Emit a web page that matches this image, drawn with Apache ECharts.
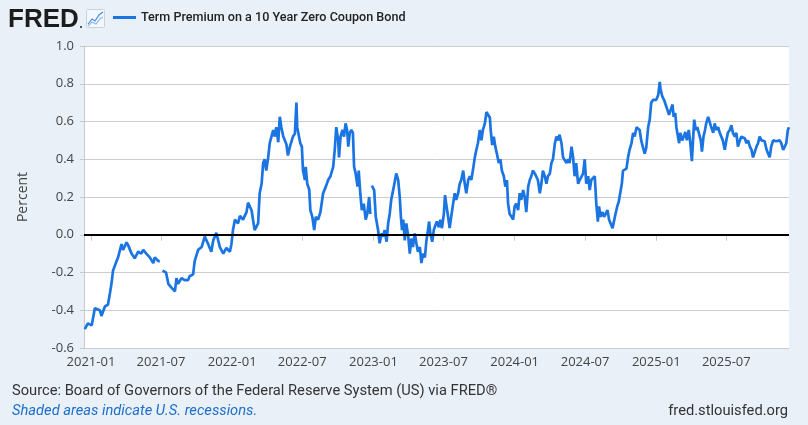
<!DOCTYPE html>
<html>
<head>
<meta charset="utf-8">
<script src="https://cdn.jsdelivr.net/npm/echarts@6/dist/echarts.min.js"></script>
<style>
html,body{margin:0;padding:0;background:#eaf0f8;}
#c{width:808px;height:425px;}
</style>
</head>
<body>
<div id="c"></div>
<script>
const seriesName = 'Term Premium on a 10 Year Zero Coupon Bond';
const yTicks = [-0.6, -0.4, -0.2, 0.0, 0.2, 0.4, 0.6, 0.8, 1.0];
const xTickLabels = ['2021-01','2021-07','2022-01','2022-07','2023-01','2023-07','2024-01','2024-07','2025-01','2025-07'];
const dates = [
'2020-12-16','2020-12-24','2021-01-03','2021-01-07','2021-01-11','2021-01-15','2021-01-24','2021-01-28','2021-02-06','2021-02-14',
'2021-02-19','2021-02-23','2021-02-27','2021-03-04','2021-03-08','2021-03-12','2021-03-21','2021-03-25','2021-04-03','2021-04-07',
'2021-04-16','2021-04-24','2021-05-03','2021-05-11','2021-05-16','2021-05-24','2021-06-02','2021-06-11','2021-06-15','2021-06-24',
'2021-06-28','2021-07-02','2021-07-05','2021-07-14','2021-07-20','2021-07-28','2021-08-06','2021-08-10','2021-08-14','2021-08-23',
'2021-08-31','2021-09-09','2021-09-13','2021-09-22','2021-09-26','2021-10-05','2021-10-14','2021-10-22','2021-10-31','2021-11-08',
'2021-11-13','2021-11-21','2021-11-30','2021-12-09','2021-12-17','2021-12-26','2021-12-30','2022-01-03','2022-01-08','2022-01-16',
'2022-01-21','2022-01-29','2022-02-07','2022-02-11','2022-02-20','2022-02-24','2022-02-28','2022-03-05','2022-03-09','2022-03-13',
'2022-03-18','2022-03-22','2022-03-26','2022-03-30','2022-04-04','2022-04-08','2022-04-12','2022-04-17','2022-04-21','2022-04-25',
'2022-04-30','2022-05-04','2022-05-08','2022-05-13','2022-05-21','2022-05-25','2022-05-30','2022-06-07','2022-06-12','2022-06-16',
'2022-06-18','2022-06-23','2022-06-26','2022-06-30','2022-07-03','2022-07-08','2022-07-10','2022-07-14','2022-07-19','2022-07-22',
'2022-07-27','2022-08-01','2022-08-05','2022-08-11','2022-08-17','2022-08-24','2022-08-31','2022-09-06','2022-09-12','2022-09-19',
'2022-09-23','2022-09-27','2022-10-02','2022-10-04','2022-10-08','2022-10-13','2022-10-17','2022-10-21','2022-10-25','2022-10-28',
'2022-11-01','2022-11-05','2022-11-09','2022-11-12','2022-11-16','2022-11-21','2022-11-24','2022-11-28','2022-12-02','2022-12-07',
'2022-12-12','2022-12-16','2022-12-21','2022-12-24','2022-12-26','2022-12-28','2023-01-03','2023-01-07','2023-01-13','2023-01-17',
'2023-01-22','2023-01-26','2023-01-30','2023-02-04','2023-02-08','2023-02-12','2023-02-16','2023-02-21','2023-02-25','2023-03-01',
'2023-03-06','2023-03-10','2023-03-13','2023-03-16','2023-03-19','2023-03-23','2023-03-27','2023-04-01','2023-04-05','2023-04-09',
'2023-04-13','2023-04-18','2023-04-22','2023-04-26','2023-05-01','2023-05-05','2023-05-09','2023-05-14','2023-05-18','2023-05-22',
'2023-05-25','2023-05-28','2023-06-02','2023-06-06','2023-06-10','2023-06-14','2023-06-19','2023-06-23','2023-06-27','2023-07-02',
'2023-07-05','2023-07-09','2023-07-13','2023-07-17','2023-07-21','2023-07-26','2023-07-30','2023-08-03','2023-08-08','2023-08-12',
'2023-08-16','2023-08-21','2023-08-25','2023-08-29','2023-09-03','2023-09-07','2023-09-11','2023-09-15','2023-09-20','2023-09-24',
'2023-09-28','2023-10-03','2023-10-07','2023-10-11','2023-10-16','2023-10-20','2023-10-24','2023-10-29','2023-10-31','2023-11-04',
'2023-11-08','2023-11-12','2023-11-16','2023-11-21','2023-11-25','2023-11-29','2023-12-04','2023-12-08','2023-12-12','2023-12-15',
'2023-12-19','2023-12-24','2023-12-28','2024-01-01','2024-01-05','2024-01-10','2024-01-14','2024-01-18','2024-01-23','2024-01-27',
'2024-01-31','2024-02-05','2024-02-09','2024-02-13','2024-02-17','2024-02-22','2024-02-26','2024-03-01','2024-03-06','2024-03-10',
'2024-03-14','2024-03-19','2024-03-23','2024-03-27','2024-04-01','2024-04-05','2024-04-09','2024-04-14','2024-04-18','2024-04-22',
'2024-04-26','2024-05-01','2024-05-05','2024-05-09','2024-05-14','2024-05-18','2024-05-22','2024-05-27','2024-05-31','2024-06-04',
'2024-06-08','2024-06-13','2024-06-17','2024-06-21','2024-06-26','2024-06-30','2024-07-04','2024-07-09','2024-07-13','2024-07-17',
'2024-07-22','2024-07-26','2024-07-30','2024-08-03','2024-08-06','2024-08-10','2024-08-15','2024-08-19','2024-08-23','2024-08-28',
'2024-09-01','2024-09-05','2024-09-10','2024-09-13','2024-09-17','2024-09-22','2024-09-26','2024-09-30','2024-10-04','2024-10-07',
'2024-10-11','2024-10-16','2024-10-20','2024-10-24','2024-10-29','2024-11-02','2024-11-06','2024-11-11','2024-11-15','2024-11-19',
'2024-11-23','2024-11-28','2024-12-02','2024-12-06','2024-12-11','2024-12-15','2024-12-19','2024-12-24','2024-12-28','2025-01-01',
'2025-01-06','2025-01-10','2025-01-12','2025-01-17','2025-01-21','2025-01-25','2025-01-30','2025-02-03','2025-02-07','2025-02-12',
'2025-02-15','2025-02-19','2025-02-22','2025-02-26','2025-03-01','2025-03-04','2025-03-09','2025-03-13','2025-03-17','2025-03-21',
'2025-03-26','2025-03-30','2025-04-03','2025-04-06','2025-04-09','2025-04-13','2025-04-17','2025-04-21','2025-04-26','2025-04-29',
'2025-05-03','2025-05-07','2025-05-10','2025-05-15','2025-05-19','2025-05-23','2025-05-28','2025-06-01','2025-06-05','2025-06-10',
'2025-06-14','2025-06-18','2025-06-22','2025-06-27','2025-07-01','2025-07-05','2025-07-10','2025-07-14','2025-07-18','2025-07-23',
'2025-07-27','2025-07-31','2025-08-05','2025-08-09','2025-08-13','2025-08-18','2025-08-22','2025-08-26','2025-08-31','2025-09-04',
'2025-09-08','2025-09-12','2025-09-17','2025-09-21','2025-09-25','2025-09-30','2025-10-04','2025-10-08','2025-10-13','2025-10-17',
'2025-10-21','2025-10-25','2025-10-30','2025-11-03','2025-11-07','2025-11-12','2025-11-16','2025-11-20','2025-11-25','2025-11-29',
'2025-12-03','2025-12-07','2025-12-10'
];
const values = [
-0.50,-0.47,-0.48,-0.49,-0.39,-0.38,-0.40,-0.43,-0.38,-0.37,
-0.31,-0.26,-0.19,-0.19,-0.14,-0.12,-0.05,-0.08,-0.04,-0.055,
-0.10,-0.125,-0.09,-0.10,-0.08,-0.10,-0.12,-0.15,-0.12,-0.14,
-0.14,null,-0.19,-0.20,-0.26,-0.28,-0.30,-0.23,-0.26,-0.23,
-0.24,-0.24,-0.22,-0.21,-0.14,-0.08,-0.065,-0.01,-0.05,-0.09,
-0.03,0.01,-0.065,-0.10,-0.07,-0.09,-0.05,0.025,0.08,0.06,
0.10,0.08,0.12,0.17,0.13,0.12,0.025,0.025,0.06,0.22,
0.27,0.38,0.40,0.34,0.41,0.485,0.475,0.555,0.52,0.57,
0.49,0.625,0.57,0.52,0.48,0.42,0.465,0.52,0.535,0.70,
0.57,0.57,0.485,0.467,0.34,0.29,0.36,0.27,0.24,0.13,
0.095,0.025,0.095,0.08,0.12,0.22,0.255,0.29,0.31,0.36,
0.45,0.57,0.50,0.41,0.52,0.555,0.52,0.59,0.555,0.467,
0.54,0.555,0.54,0.36,0.325,0.255,0.34,0.22,0.13,0.165,
0.08,0.11,0.20,0.11,null,0.26,0.235,0.095,0.025,-0.045,
0.007,-0.01,0.025,-0.037,0.06,0.11,0.185,0.237,0.28,0.325,
0.29,0.20,0.095,0.025,0.08,-0.03,0.06,-0.01,-0.10,-0.02,
-0.065,0.007,-0.045,-0.09,-0.065,-0.15,-0.10,-0.12,-0.03,0.025,
0.07,0.007,-0.037,0.025,0.05,0.07,0.04,0.08,0.035,0.11,
0.21,0.15,0.095,0.035,0.095,0.165,0.22,0.185,0.22,0.27,
0.29,0.34,0.27,0.22,0.29,0.31,0.29,0.34,0.41,0.45,
0.485,0.555,0.50,0.555,0.59,0.65,0.645,0.62,0.555,0.475,
0.52,0.467,0.43,0.38,0.40,0.34,0.31,0.255,0.29,0.165,
0.11,0.095,0.08,0.15,0.165,0.13,0.22,0.185,0.237,0.20,
0.12,0.255,0.29,0.31,0.34,0.325,0.335,0.29,0.22,0.27,
0.34,0.31,0.27,0.31,0.325,0.38,0.40,0.485,0.52,0.50,
0.53,0.485,0.41,0.41,0.38,0.40,0.38,0.467,0.41,0.31,
0.38,0.27,0.29,0.28,0.325,0.40,0.27,0.31,0.237,0.29,
0.29,0.31,0.165,0.07,0.15,0.095,0.12,0.095,0.11,0.13,
0.08,0.07,0.035,0.04,0.105,0.15,0.175,0.185,0.27,0.34,
0.34,0.35,0.41,0.45,0.485,0.54,0.52,0.57,0.57,0.555,
0.50,0.46,0.43,0.46,0.57,0.61,0.70,0.715,0.705,0.715,
0.74,0.81,0.77,0.73,0.715,0.705,0.66,0.635,0.66,0.69,
0.625,0.645,0.57,0.52,0.485,0.54,0.50,0.52,0.545,0.50,
0.555,0.485,0.39,0.50,0.61,0.555,0.57,0.54,0.50,0.44,
0.52,0.555,0.59,0.625,0.62,0.57,0.54,0.59,0.555,0.57,
0.54,0.53,0.50,0.45,0.50,0.54,0.555,0.58,0.54,0.52,
0.54,0.467,0.50,0.52,0.53,0.51,0.485,0.50,0.467,0.45,
0.41,0.42,0.467,0.485,0.52,0.50,0.51,0.495,0.45,0.43,
0.41,0.467,0.50,0.51,0.495,0.50,0.50,0.485,0.45,0.46,
0.485,0.555,0.57
];
const xMin = '2020-12-14';
const xMax = '2025-12-10';

const data = dates.map((d, i) => [d, values[i]]);
function pad(n){ return (n < 10 ? '0' : '') + n; }

const chart = echarts.init(document.getElementById('c'), null, {renderer: 'canvas'});
chart.setOption({
  animation: false,
  backgroundColor: '#eaf0f8',
  textStyle: { fontFamily: 'Roboto' },
  grid: { left: 84, right: 19, top: 46, bottom: 77, show: true, backgroundColor: '#ffffff', borderWidth: 0 },
  legend: {
    left: 113, top: 11, padding: 0,
    icon: 'rect', itemWidth: 23, itemHeight: 3, itemGap: 5,
    textStyle: { fontFamily: 'Roboto', fontSize: 12.6, fontWeight: 500, color: '#222', padding: [0, 0, 0, 0] },
    data: [seriesName]
  },
  xAxis: {
    type: 'time',
    min: xMin, max: xMax,
    minInterval: 180 * 864e5, maxInterval: 185 * 864e5,
    axisLine: { show: true, lineStyle: { color: '#c8c8c8', width: 1 } },
    axisTick: { show: true, length: 6, lineStyle: { color: '#c8c8c8' } },
    splitLine: { show: false },
    axisLabel: {
      fontFamily: 'Open Sans', fontSize: 13, color: '#444', margin: 8,
      showMinLabel: false, showMaxLabel: false,
      formatter: function (v) {
        const d = new Date(v);
        const s = d.getFullYear() + '-' + pad(d.getMonth() + 1);
        return xTickLabels.indexOf(s) >= 0 ? s : '';
      }
    }
  },
  yAxis: {
    type: 'value',
    min: yTicks[0], max: yTicks[yTicks.length - 1], interval: 0.2,
    name: 'Percent', nameLocation: 'middle', nameGap: 54, nameRotate: 90,
    nameTextStyle: { fontFamily: 'Open Sans', fontSize: 14, color: '#444' },
    axisLine: { show: true, lineStyle: { color: '#c8c8c8' } },
    axisTick: { show: true, length: 4, lineStyle: { color: '#c8c8c8' } },
    splitLine: { show: true, lineStyle: { color: '#cccccc', width: 1 } },
    axisLabel: {
      fontFamily: 'Open Sans', fontSize: 13, color: '#444', margin: 10,
      formatter: function (v) { return v.toFixed(1); }
    }
  },
  series: [{
    name: seriesName,
    type: 'line',
    data: data,
    showSymbol: false,
    symbol: 'none',
    connectNulls: false,
    color: '#1a74e2',
    lineStyle: { color: '#1a74e2', width: 2.7 },
    markLine: {
      silent: true, symbol: 'none', animation: false,
      label: { show: false },
      lineStyle: { color: '#000', width: 2, type: 'solid' },
      data: [{ yAxis: 0 }]
    },
    z: 3
  }],
  graphic: [
    { type: 'text', left: 8, top: 7,
      style: { text: 'FRED', font: 'bold 26px "Liberation Sans"', fill: '#1c1c1c' } },
    { type: 'circle', shape: { cx: 81, cy: 27, r: 1 }, style: { fill: '#1c1c1c' } },
    { type: 'rect', shape: { x: 86.5, y: 9.5, width: 18, height: 18, r: 1 },
      style: { fill: '#f4f7fb', stroke: '#c9d3de', lineWidth: 1 } },
    { type: 'polyline', shape: { points: [[88,24],[92,19],[95,21],[99,15],[103,12]] },
      style: { stroke: '#4a90e2', lineWidth: 1.2, fill: null } },
    { type: 'polyline', shape: { points: [[88,26],[92,22],[96,24],[100,19],[103,17]] },
      style: { stroke: '#8dbbf0', lineWidth: 1.2, fill: null } },
    { type: 'text', left: 12, top: 384,
      style: { text: 'Source: Board of Governors of the Federal Reserve System (US) via FRED\u00ae', font: '14.7px Roboto', fill: '#333' } },
    { type: 'text', left: 12, top: 404,
      style: { text: 'Shaded areas indicate U.S. recessions.', font: 'italic 14.7px Roboto', fill: '#1c6fc9' } },
    { type: 'text', right: 20, top: 404,
      style: { text: 'fred.stlouisfed.org', font: '14.7px Roboto', fill: '#333' } }
  ]
});
</script>
</body>
</html>
